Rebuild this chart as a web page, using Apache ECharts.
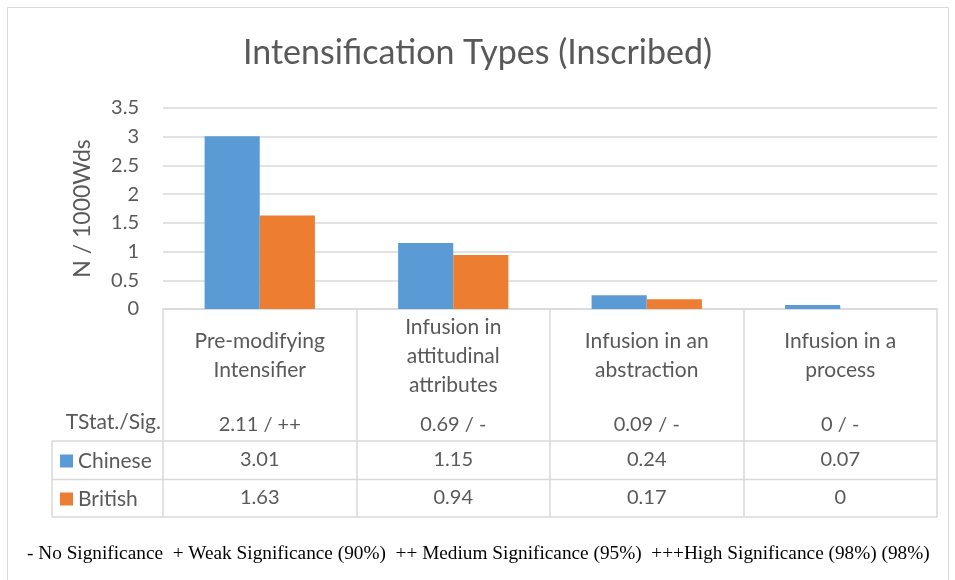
<!DOCTYPE html>
<html>
<head>
<meta charset="utf-8">
<script src="https://cdn.jsdelivr.net/npm/echarts@6/dist/echarts.min.js"></script>
<style>
  html, body { margin: 0; padding: 0; background: #fff; }
  #main { width: 955px; height: 580px; }
</style>
</head>
<body>
<div id="main"></div>
<script>
var categories = ['Pre-modifying\nIntensifier', 'Infusion in\nattitudinal\nattributes', 'Infusion in an\nabstraction', 'Infusion in a\nprocess'];
var tStatSig = ['2.11 / ++', '0.69 / -', '0.09 / -', '0 / -'];
var chinese = [3.01, 1.15, 0.24, 0.07];
var british = [1.63, 0.94, 0.17, 0];
var yTicks = [0, 0.5, 1, 1.5, 2, 2.5, 3, 3.5];

var grey = '#595959';
var lineGrey = '#d9d9d9';
var font = 'Lato';

var chartDom = document.getElementById('main');
var myChart = echarts.init(chartDom);
var option;

function rowAxis(margin, formatter) {
  return {
    type: 'category',
    data: categories,
    position: 'bottom',
    axisLine: { show: false },
    axisTick: { show: false },
    axisLabel: {
      interval: 0,
      margin: margin,
      verticalAlign: 'middle',
      color: grey,
      fontFamily: font,
      fontSize: 20,
      formatter: formatter
    }
  };
}

option = {
  animation: false,
  title: {
    text: 'Intensification Types (Inscribed)',
    left: 'center',
    top: 31,
    textStyle: { color: grey, fontFamily: font, fontSize: 34, fontWeight: 'normal' }
  },
  legend: {
    data: ['Chinese', 'British'],
    orient: 'vertical',
    left: 55,
    top: 444,
    itemWidth: 13,
    itemHeight: 13,
    itemGap: 14,
    icon: 'rect',
    textStyle: { color: grey, fontFamily: font, fontSize: 21, lineHeight: 24 }
  },
  grid: { left: 163, right: 18, top: 108, bottom: 271 },
  xAxis: [
    {
      type: 'category',
      data: categories,
      axisLine: { lineStyle: { color: lineGrey, width: 1.5 } },
      axisTick: { show: true, length: 208, interval: 0, lineStyle: { color: lineGrey, width: 1.5 } },
      axisLabel: {
        interval: 0,
        margin: 47,
        verticalAlign: 'middle',
        color: grey,
        fontFamily: font,
        fontSize: 21,
        lineHeight: 29
      }
    },
    rowAxis(116, function (v, i) { return tStatSig[i]; }),
    rowAxis(151, function (v, i) { return String(chinese[i]); }),
    rowAxis(189, function (v, i) { return String(british[i]); })
  ],
  yAxis: {
    type: 'value',
    min: yTicks[0],
    max: yTicks[yTicks.length - 1],
    interval: 0.5,
    name: 'N / 1000Wds',
    nameLocation: 'middle',
    nameGap: 69,
    nameTextStyle: { color: grey, fontFamily: font, fontSize: 23 },
    axisLine: { show: false },
    axisTick: { show: false },
    axisLabel: { color: grey, fontFamily: font, fontSize: 20, margin: 24 },
    splitLine: { lineStyle: { color: lineGrey, width: 1.5 } }
  },
  series: [
    {
      name: 'Chinese',
      type: 'bar',
      data: chinese,
      barGap: 0,
      barCategoryGap: '43%',
      itemStyle: { color: '#5B9BD5' }
    },
    {
      name: 'British',
      type: 'bar',
      data: british,
      itemStyle: { color: '#ED7D31' }
    }
  ],
  graphic: [
    { type: 'rect', shape: { x: 7.5, y: 7.5, width: 941, height: 580 }, style: { fill: 'none', stroke: lineGrey, lineWidth: 1 } },
    { type: 'line', shape: { x1: 52, y1: 441, x2: 937, y2: 441 }, style: { stroke: lineGrey, lineWidth: 1.5 } },
    { type: 'line', shape: { x1: 52, y1: 479.5, x2: 937, y2: 479.5 }, style: { stroke: lineGrey, lineWidth: 1.5 } },
    { type: 'line', shape: { x1: 52, y1: 517, x2: 937, y2: 517 }, style: { stroke: lineGrey, lineWidth: 1.5 } },
    { type: 'line', shape: { x1: 52, y1: 441, x2: 52, y2: 517 }, style: { stroke: lineGrey, lineWidth: 1.5 } },
    { type: 'text', right: 955 - 161, top: 412, style: { text: 'TStat./Sig.', fill: grey, font: '21px ' + font } },
    { type: 'text', left: 27, top: 544, style: { text: '- No Significance  + Weak Significance (90%)  ++ Medium Significance (95%)  +++High Significance (98%) (98%)', fill: '#000', font: '19.3px "Liberation Serif"' } }
  ]
};

option && myChart.setOption(option);
</script>
</body>
</html>
